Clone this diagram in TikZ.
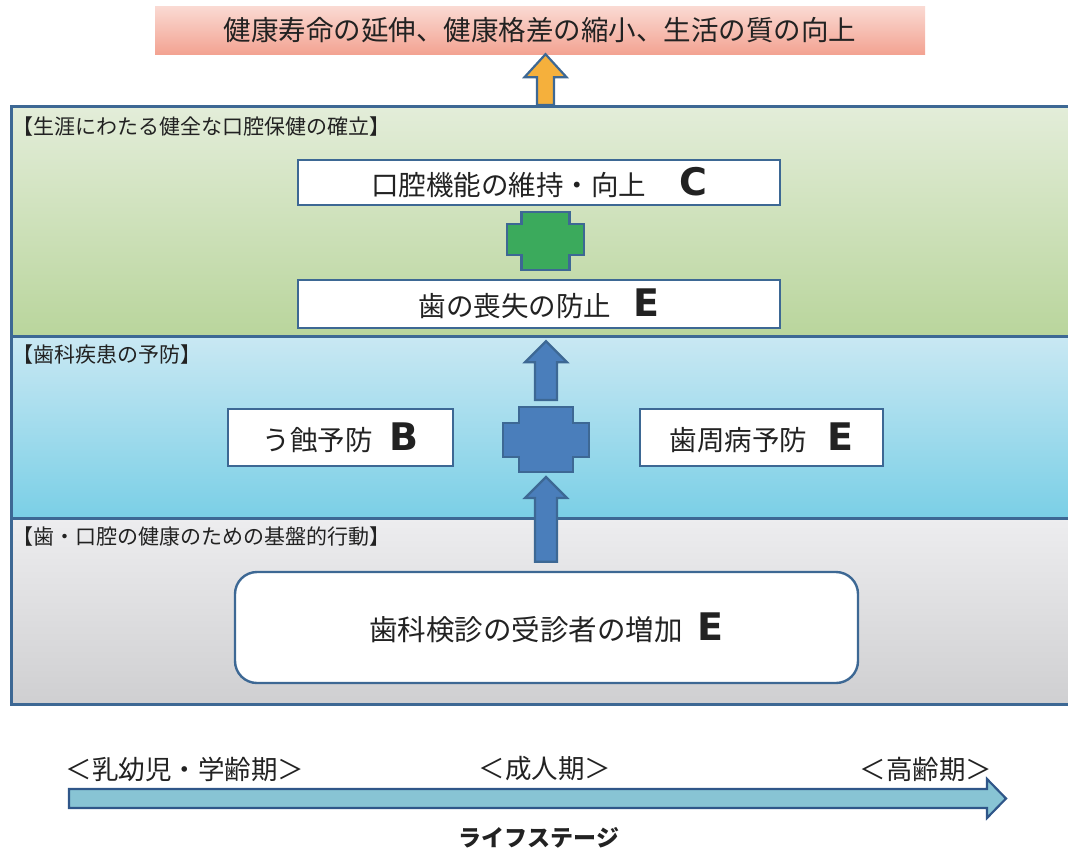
\documentclass[tikz,border=0pt]{standalone}
\usepackage{fontspec}
\setmainfont{Noto Sans CJK JP}
\newfontfamily\gradefont{DejaVu Sans}
\usetikzlibrary{calc}

\definecolor{borde}{HTML}{3D6894}
\definecolor{texto}{HTML}{222222}
\definecolor{rosaA}{HTML}{FADAD3}
\definecolor{rosaB}{HTML}{F3A392}
\definecolor{verdeA}{HTML}{E3EDD9}
\definecolor{verdeB}{HTML}{B9D59C}
\definecolor{azulA}{HTML}{C9E8F3}
\definecolor{azulB}{HTML}{7ACFE6}
\definecolor{grisA}{HTML}{EDEDEF}
\definecolor{grisB}{HTML}{CFCFD1}
\definecolor{cruzverde}{HTML}{3BAA5C}
\definecolor{cruzazul}{HTML}{4A7EBB}
\definecolor{naranja}{HTML}{F5B03C}
\definecolor{etapa}{HTML}{88C4D4}
\definecolor{etapaborde}{HTML}{2F5689}

% letra de evaluacion (B, C, E)
\newcommand\grade[1]{{\gradefont\bfseries\fontsize{38}{40}\selectfont #1}}

% flecha de bloque hacia arriba: estilo, base, punta, medio tallo, media cabeza, largo cabeza
\newcommand\flechaup[6]{%
  \draw[#1] let \p1=(#2), \p2=(#3) in
    (\x1-#4,\y1) -- (\x1-#4,\y2-#6) -- (\x1-#5,\y2-#6) -- (\x1,\y2)
    -- (\x1+#5,\y2-#6) -- (\x1+#4,\y2-#6) -- (\x1+#4,\y1) -- cycle;}

\begin{document}
\begin{tikzpicture}[x=1pt,y=-1pt,
    seccion/.style={draw=borde, line width=2.8pt, anchor=north west,
      minimum width=1065pt, inner sep=0pt},
    seclabel/.style={anchor=west, inner sep=2pt, text=texto,
      font=\fontsize{21}{23}\selectfont},
    caja/.style={draw=borde, line width=2.4pt, fill=white, inner sep=0pt,
      text=texto, font=\fontsize{27.5}{30}\selectfont},
    etiqueta/.style={text=texto, inner sep=0pt, font=\fontsize{26.5}{28}\selectfont},
    bloque/.style={draw=borde, line width=2.2pt, line join=miter}]

    \useasboundingbox (0,0) rectangle (1068,855);

    % 1. Objetivo superior
    \node[top color=rosaA, bottom color=rosaB, minimum width=770pt, minimum height=48pt,
      inner sep=0pt, text=texto, font=\fontsize{27.5}{30}\selectfont]
      (goal) at (540,30) {健康寿命の延伸、健康格差の縮小、生活の質の向上};

    % 2. Tres franjas
    \node[seccion, top color=verdeA, bottom color=verdeB, minimum height=230pt]
      (lifelong) at (10,105) {};
    \node[seccion, top color=azulA, bottom color=azulB, minimum height=182pt]
      (prevent) at (10,335) {};
    \node[seccion, top color=grisA, bottom color=grisB, minimum height=186pt]
      (basic) at (10,517) {};

    \node[seclabel] (lbl1) at ($(lifelong.north west)+(0,22)$) {【生涯にわたる健全な口腔保健の確立】};
    \node[seclabel] (lbl2) at ($(prevent.north west)+(0,20)$) {【歯科疾患の予防】};
    \node[seclabel] (lbl3) at ($(basic.north west)+(0,20)$) {【歯・口腔の健康のための基盤的行動】};

    % 3. Cajas
    \node[caja, minimum width=482pt, minimum height=45pt] (oral) at (539,182.5)
      {口腔機能の維持・向上\hspace{33pt}\grade{C}};
    \node[caja, minimum width=482pt, minimum height=48pt] (loss) at (539,304)
      {歯の喪失の防止\hspace{22pt}\grade{E}};
    \node[caja, minimum width=225pt, minimum height=57pt] (caries) at (340.5,437.5)
      {う蝕予防\hspace{17pt}\grade{B}};
    \node[caja, minimum width=243pt, minimum height=57pt] (perio) at (761.5,437.5)
      {歯周病予防\hspace{20pt}\grade{E}};
    \node[caja, rounded corners=22pt, minimum width=623pt, minimum height=111pt,
      font=\fontsize{28.5}{30}\selectfont] (checkup) at (546.5,627.5)
      {歯科検診の受診者の増加\hspace{15pt}\grade{E}};

    % 4. Cruces
    \coordinate (gcross) at (545.5,241);
    \draw[bloque, fill=cruzverde] ([shift={(-24,-29)}]gcross) -- ++(48,0) -- ++(0,12)
      -- ++(14.5,0) -- ++(0,31) -- ++(-14.5,0) -- ++(0,15) -- ++(-48,0) -- ++(0,-15)
      -- ++(-14.5,0) -- ++(0,-31) -- ++(14.5,0) -- cycle;
    \coordinate (bcross) at (546,439.5);
    \draw[bloque, fill=cruzazul] ([shift={(-27,-32.5)}]bcross) -- ++(54,0) -- ++(0,16)
      -- ++(16,0) -- ++(0,34) -- ++(-16,0) -- ++(0,15) -- ++(-54,0) -- ++(0,-15)
      -- ++(-16,0) -- ++(0,-34) -- ++(16,0) -- cycle;

    % 5. Flechas
    \coordinate (obase) at (545.5,105);
    \flechaup{bloque, fill=naranja}{obase}{obase |- goal.south}{8.5pt}{21pt}{23pt}
    \flechaup{bloque, fill=cruzazul}{$(bcross)+(0,-39.5)$}{$(loss.south)+(0,12)$}{11pt}{21pt}{21pt}
    \flechaup{bloque, fill=cruzazul}{$(checkup.north)+(-0.5,-9)$}{$(bcross)+(0,37.5)$}{11pt}{21pt}{21pt}

    % 6. Etapas de la vida
    \node[etiqueta] (infant) at (185,769) {＜乳幼児・学齢期＞};
    \node[etiqueta] (adult) at (545,769) {＜成人期＞};
    \node[etiqueta] (elderly) at (926,769) {＜高齢期＞};

    \coordinate (stageL) at (69,798.5);
    \coordinate (stageR) at (1006,798.5);
    \draw[draw=etapaborde, line width=2.2pt, fill=etapa] let \p1=(stageL), \p2=(stageR) in
      (\x1,\y1+9.5pt) -- (\x2-19pt,\y1+9.5pt) -- (\x2-19pt,\y1+19.5pt) -- (\x2,\y2)
      -- (\x2-19pt,\y1-19.5pt) -- (\x2-19pt,\y1-9.5pt) -- (\x1,\y1-9.5pt) -- cycle;

    \node[text=texto, font=\bfseries\fontsize{23}{26}\selectfont] (stage) at (539,838) {ライフステージ};

\end{tikzpicture}
\end{document}
